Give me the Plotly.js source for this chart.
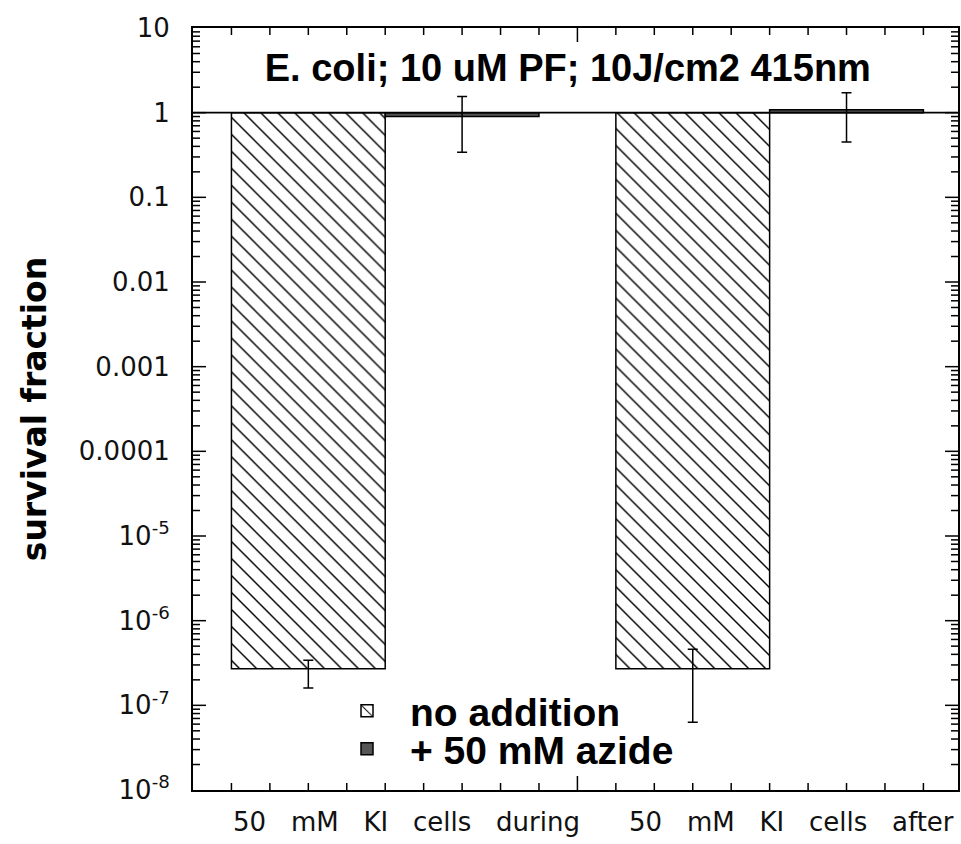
<!DOCTYPE html>
<html>
<head>
<meta charset="utf-8">
<script src="https://cdn.plot.ly/plotly-3.0.1.min.js"></script>
<style>html,body{margin:0;padding:0;background:#fff;}#chart{width:961px;height:844px;}</style>
</head>
<body>
<div id="chart"></div>
<script>
// ---- data ----
const categories = ['50 mM KI cells during', '50 mM KI cells after'];
const groupPos = [5, 15];
const noAddition = [2.7e-7, 2.7e-7];
const noAdditionHi = [3.4e-7, 4.6e-7];
const noAdditionLo = [1.6e-7, 6.3e-8];
const azide = [0.9, 1.08];
const azideHi = [1.55, 1.72];
const azideLo = [0.34, 0.45];
const yTickVals = [10, 1, 0.1, 0.01, 0.001, 0.0001, 1e-5, 1e-6, 1e-7, 1e-8];
const yTickText = ['10', '1', '0.1', '0.01', '0.001', '0.0001',
  '10<sup>-5</sup>', '10<sup>-6</sup>', '10<sup>-7</sup>', '10<sup>-8</sup>'];
const xMajorTicks = [10];
const xMinorTicks = [1, 2, 3, 4, 5, 6, 7, 8, 9, 11, 12, 13, 14, 15, 16, 17, 18, 19];
const seriesNames = ['no addition', '+ 50 mM azide'];
const titleText = 'E. coli; 10 uM PF; 10J/cm2 415nm';

const baseLine = 1;
const errStyle = (v, hi, lo) => ({
  type: 'data', symmetric: false,
  array: v.map((d, i) => hi[i] - d),
  arrayminus: v.map((d, i) => d - lo[i]),
  color: 'black', thickness: 1.5, width: 5
});

const W = 961, H = 844;
const mL = 193, mR = 3, mT = 28, mB = 54;
const plotW = W - mL - mR, plotH = H - mT - mB;
const xRange = [0, 19.9];
const yRange = [-8, 1];
const pxPerX = plotW / (xRange[1] - xRange[0]);
const pxPerDecade = plotH / (yRange[1] - yRange[0]);
const legendFont = {family: 'Liberation Sans, Arial, sans-serif', size: 39, color: 'black', weight: 'bold'};

// ---- inward tick marks on all four frame edges, drawn through the axes' scales ----
const yMinorTicks = [];
yTickVals.slice(1).forEach(dec => { for (let k = 2; k <= 9; k++) yMinorTicks.push(k * dec); });
const tickX = [], tickY = [];
const yTick = (v, len) => {
  const dx = len / pxPerX;
  tickX.push(xRange[0], xRange[0] + dx, null, xRange[1] - dx, xRange[1], null);
  tickY.push(v, v, null, v, v, null);
};
const xTick = (v, len) => {
  const f = Math.pow(10, len / pxPerDecade);
  const yLo = Math.pow(10, yRange[0]), yHi = Math.pow(10, yRange[1]);
  tickX.push(v, v, null, v, v, null);
  tickY.push(yLo, yLo * f, null, yHi / f, yHi, null);
};
yTickVals.slice(1, -1).forEach(v => yTick(v, 13));
yMinorTicks.forEach(v => yTick(v, 7));
xMajorTicks.forEach(v => xTick(v, 14));
xMinorTicks.forEach(v => xTick(v, 7));

const traces = [
  {
    type: 'bar', name: seriesNames[0], legend: 'legend',
    x: groupPos, y: noAddition.map(v => v - baseLine), base: baseLine,
    marker: {
      color: 'white',
      line: {color: 'black', width: 1.5},
      pattern: {shape: '\\', size: 12, solidity: 0.12, fgcolor: 'black', bgcolor: 'white', fillmode: 'replace'}
    },
    error_y: errStyle(noAddition, noAdditionHi, noAdditionLo),
    hoverinfo: 'skip'
  },
  {
    type: 'bar', name: seriesNames[1], legend: 'legend2',
    x: groupPos, y: azide.map(v => v - baseLine), base: baseLine,
    marker: {color: '#555555', line: {color: 'black', width: 1.5}},
    error_y: errStyle(azide, azideHi, azideLo),
    hoverinfo: 'skip'
  },
  {
    type: 'scatter', mode: 'lines', name: 'ticks', showlegend: false, hoverinfo: 'skip',
    x: tickX, y: tickY, connectgaps: false, cliponaxis: false,
    line: {color: 'black', width: 1.5}
  }
];

const layout = {
  width: W, height: H,
  margin: {l: mL, r: mR, t: mT, b: mB, pad: 0},
  paper_bgcolor: 'white', plot_bgcolor: 'white',
  barmode: 'group', bargap: 0.2, bargroupgap: 0,
  title: {
    text: '<b>' + titleText + '</b>',
    font: {family: 'Liberation Sans, Arial, sans-serif', size: 38, color: 'black'},
    xref: 'paper', x: 0.49, xanchor: 'center',
    yref: 'container', y: 1 - 68 / H, yanchor: 'middle'
  },
  xaxis: {
    type: 'linear', range: xRange, fixedrange: true,
    showgrid: false, zeroline: false,
    showline: true, linecolor: 'black', linewidth: 2, mirror: true,
    ticks: '', showticklabels: false
  },
  yaxis: {
    type: 'log', range: yRange, fixedrange: true,
    showgrid: false, zeroline: false,
    showline: true, linecolor: 'black', linewidth: 2, mirror: true,
    tickmode: 'array', tickvals: yTickVals, ticktext: yTickText,
    ticks: '', ticklabelstandoff: 16,
    tickfont: {family: 'DejaVu Sans, sans-serif', size: 26, color: '#111'},
    title: {
      text: '<b>survival fraction</b>', standoff: 22,
      font: {family: 'DejaVu Sans, sans-serif', size: 33, color: 'black'}
    }
  },
  showlegend: true,
  legend: {
    x: (324 - mL) / plotW, xanchor: 'left',
    y: (790 - 711) / plotH, yanchor: 'middle', itemwidth: 76,
    bgcolor: 'rgba(0,0,0,0)', borderwidth: 0, font: legendFont
  },
  legend2: {
    x: (324 - mL) / plotW, xanchor: 'left',
    y: (790 - 749) / plotH, yanchor: 'middle', itemwidth: 76,
    bgcolor: 'rgba(0,0,0,0)', borderwidth: 0, font: legendFont
  },
  shapes: [
    {type: 'line', xref: 'paper', x0: 0, x1: 1, yref: 'y', y0: baseLine, y1: baseLine,
     line: {color: 'black', width: 1.8}, layer: 'above'}
  ],
  annotations: categories.map((c, i) => ({
    text: c.split(' ').join('\u00a0\u00a0\u00a0'),
    xref: 'x', x: groupPos[i] + 0.56, xanchor: 'center',
    yref: 'paper', y: 0, yshift: -15, yanchor: 'top',
    showarrow: false,
    font: {family: 'DejaVu Sans, sans-serif', size: 26, color: '#111'}
  }))
};

Plotly.newPlot('chart', traces, layout, {displayModeBar: false});
</script>
</body>
</html>
